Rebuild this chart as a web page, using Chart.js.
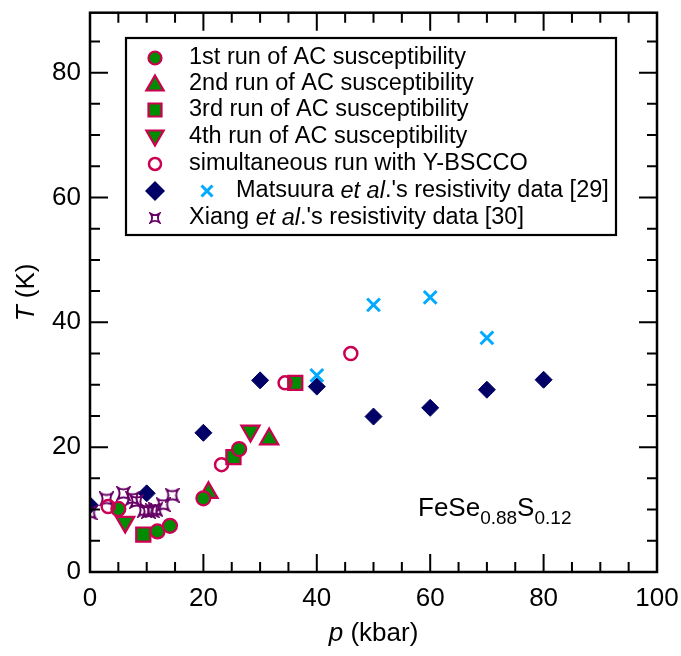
<!DOCTYPE html>
<html>
<head>
<meta charset="utf-8">
<script src="https://cdn.jsdelivr.net/npm/chart.js@4.4.1/dist/chart.umd.min.js"></script>
<style>
html,body{margin:0;padding:0;background:#fff}
#wrap{width:681px;height:656px}
</style>
</head>
<body>
<div id="wrap"><canvas id="graph" width="681" height="656"></canvas></div>
<script>
// axes
const xTicks = [0, 20, 40, 60, 80, 100];
const yTicks = [0, 20, 40, 60, 80];

// AC susceptibility runs (p in kbar, T in K)
const run1P = [5.0, 11.9, 14.1, 20.0, 26.3];
const run1T = [10.1, 6.5, 7.4, 11.8, 19.7];
const run2P = [20.9, 31.6];
const run2T = [12.7, 21.3];
const run3P = [9.4, 25.3, 36.2];
const run3T = [6.0, 18.4, 30.3];
const run4P = [6.2, 28.3];
const run4T = [8.0, 22.6];
const simP = [3.2, 23.2, 34.4, 46.0];
const simT = [10.5, 17.2, 30.3, 35.0];

// Matsuura et al. [29]
const matsDiaP = [0, 10, 20, 30, 40, 50, 60, 70, 80];
const matsDiaT = [10.7, 12.6, 22.3, 30.7, 29.7, 24.9, 26.3, 29.2, 30.8];
const matsCrossP = [40, 50, 60, 70];
const matsCrossT = [31.5, 42.8, 44.0, 37.5];

// Xiang et al. [30]
const xiangP = [0, 2.9, 5.9, 7.5, 8.2, 9.6, 10.3, 11.0, 11.6, 12.9, 14.5];
const xiangT = [9.5, 11.7, 12.6, 11.8, 11.3, 9.9, 9.7, 9.8, 10.0, 10.8, 12.3];

const GREEN = '#008c00';
const CRIMSON = '#cc0052';
const NAVY = '#000066';
const CYAN = '#00aaff';
const PURPLE = '#660066';
const FONT = '"Liberation Sans", Arial, sans-serif';

const pts = (xs, ys) => xs.map((x, i) => ({ x: x, y: ys[i] }));

// concave 4-point star (Xiang symbol)
function makeStar(size, lw) {
    const c = document.createElement('canvas');
    c.width = size; c.height = size;
    const g = c.getContext('2d');
    const m = size / 2, h = size / 2 - 1.5, k = h * 0.3;
    g.strokeStyle = PURPLE;
    g.lineWidth = lw;
    g.beginPath();
    g.moveTo(m - h, m - h);
    g.quadraticCurveTo(m, m - k, m + h, m - h);
    g.quadraticCurveTo(m + k, m, m + h, m + h);
    g.quadraticCurveTo(m, m + k, m - h, m + h);
    g.quadraticCurveTo(m - k, m, m - h, m - h);
    g.closePath();
    g.stroke();
    return c;
}
const starBig = makeStar(15, 2);
const starSmall = makeStar(12, 1.8);

function drawMarker(ctx, type, x, y, r, fill, stroke, lw) {
    ctx.save();
    ctx.lineWidth = lw;
    ctx.strokeStyle = stroke;
    ctx.fillStyle = fill;
    ctx.beginPath();
    if (type === 'circle') {
        ctx.arc(x, y, r, 0, Math.PI * 2);
    } else if (type === 'tri') {
        ctx.moveTo(x, y - r);
        ctx.lineTo(x + r * 0.866, y + r * 0.5);
        ctx.lineTo(x - r * 0.866, y + r * 0.5);
        ctx.closePath();
    } else if (type === 'triDown') {
        ctx.moveTo(x, y + r);
        ctx.lineTo(x + r * 0.866, y - r * 0.5);
        ctx.lineTo(x - r * 0.866, y - r * 0.5);
        ctx.closePath();
    } else if (type === 'rect') {
        ctx.rect(x - r, y - r, 2 * r, 2 * r);
    } else if (type === 'diamond') {
        ctx.moveTo(x, y - r); ctx.lineTo(x + r, y); ctx.lineTo(x, y + r); ctx.lineTo(x - r, y);
        ctx.closePath();
    } else if (type === 'cross') {
        ctx.moveTo(x - r, y - r); ctx.lineTo(x + r, y + r);
        ctx.moveTo(x + r, y - r); ctx.lineTo(x - r, y + r);
        ctx.stroke();
        ctx.restore();
        return;
    }
    if (fill) ctx.fill();
    if (stroke && lw) ctx.stroke();
    ctx.restore();
}

// text made of plain / italic pieces
function drawRich(ctx, parts, x, y, size) {
    let cx = x;
    parts.forEach(([txt, it]) => {
        ctx.font = (it ? 'italic ' : '') + size + 'px ' + FONT;
        ctx.fillText(txt, cx, y);
        cx += ctx.measureText(txt).width;
    });
    return cx;
}

const framePlugin = {
    id: 'frame',
    afterDraw(chart) {
        const ctx = chart.ctx;
        const a = chart.chartArea;
        const xs = chart.scales.x, ys = chart.scales.y;
        ctx.save();
        ctx.strokeStyle = '#000';
        ctx.lineWidth = 2.5;
        ctx.strokeRect(a.left, a.top, a.right - a.left, a.bottom - a.top);

        // inward ticks on all four sides
        ctx.lineWidth = 2;
        ctx.beginPath();
        for (let v = 0; v <= 100; v += 5) {
            const px = xs.getPixelForValue(v);
            const len = v % 20 === 0 ? 18 : 10;
            ctx.moveTo(px, a.bottom); ctx.lineTo(px, a.bottom - len);
            ctx.moveTo(px, a.top); ctx.lineTo(px, a.top + len);
        }
        for (let v = 0; v <= 85; v += 5) {
            const py = ys.getPixelForValue(v);
            const len = v % 20 === 0 ? 18 : 10;
            ctx.moveTo(a.left, py); ctx.lineTo(a.left + len, py);
            ctx.moveTo(a.right, py); ctx.lineTo(a.right - len, py);
        }
        ctx.stroke();

        // axis titles
        ctx.fillStyle = '#000';
        ctx.textBaseline = 'middle';
        ctx.font = 'italic 26px ' + FONT;
        const pw = ctx.measureText('p').width;
        ctx.font = '26px ' + FONT;
        const restW = ctx.measureText(' (kbar)').width;
        drawRich(ctx, [['p', true], [' (kbar)', false]], (a.left + a.right) / 2 - (pw + restW) / 2, 634, 26);

        ctx.save();
        ctx.translate(27, (a.top + a.bottom) / 2);
        ctx.rotate(-Math.PI / 2);
        ctx.font = 'italic 26px ' + FONT;
        const tw = ctx.measureText('T').width;
        ctx.font = '26px ' + FONT;
        const kw = ctx.measureText(' (K)').width;
        drawRich(ctx, [['T', true], [' (K)', false]], -(tw + kw) / 2, 0, 26);
        ctx.restore();

        // compound label
        ctx.textBaseline = 'alphabetic';
        let cx = 418;
        ctx.font = '26px ' + FONT;
        ctx.fillText('FeSe', cx, 516); cx += ctx.measureText('FeSe').width;
        ctx.font = '19px ' + FONT;
        ctx.fillText('0.88', cx, 524); cx += ctx.measureText('0.88').width;
        ctx.font = '26px ' + FONT;
        ctx.fillText('S', cx, 516); cx += ctx.measureText('S').width;
        ctx.font = '19px ' + FONT;
        ctx.fillText('0.12', cx, 524);

        // legend
        ctx.fillStyle = '#fff';
        ctx.fillRect(126, 38, 490, 197);
        ctx.lineWidth = 2.2;
        ctx.strokeStyle = '#000';
        ctx.strokeRect(126, 38, 490, 197);
        const rows = [58, 84, 110, 137, 164, 191, 218];
        const mx = 155, tx = 189;
        drawMarker(ctx, 'circle', mx, rows[0], 6.5, GREEN, CRIMSON, 2.2);
        drawMarker(ctx, 'tri', mx, rows[1] + 1.5, 10, GREEN, CRIMSON, 2.2);
        drawMarker(ctx, 'rect', mx, rows[2], 6.5, GREEN, CRIMSON, 2.2);
        drawMarker(ctx, 'triDown', mx, rows[3] - 1.5, 10, GREEN, CRIMSON, 2.2);
        drawMarker(ctx, 'circle', mx, rows[4], 6, '#fff', CRIMSON, 2.5);
        drawMarker(ctx, 'diamond', mx, rows[5], 10, NAVY, NAVY, 0);
        drawMarker(ctx, 'cross', 207, rows[5], 5.5, null, CYAN, 3);
        ctx.drawImage(starSmall, mx - 6, rows[6] - 6);

        ctx.fillStyle = '#000';
        ctx.textBaseline = 'middle';
        const fs = 23.5;
        drawRich(ctx, [['1st run of AC susceptibility', false]], tx, rows[0], fs);
        drawRich(ctx, [['2nd run of AC susceptibility', false]], tx, rows[1], fs);
        drawRich(ctx, [['3rd run of AC susceptibility', false]], tx, rows[2], fs);
        drawRich(ctx, [['4th run of AC susceptibility', false]], tx, rows[3], fs);
        drawRich(ctx, [['simultaneous run with Y-BSCCO', false]], tx, rows[4], fs);
        drawRich(ctx, [['Matsuura ', false], ['et al', true], ['.\'s resistivity data [29]', false]], 236, rows[5], fs);
        drawRich(ctx, [['Xiang ', false], ['et al', true], ['.\'s resistivity data [30]', false]], tx, rows[6], fs);
        ctx.restore();
    }
};

const acStyle = { backgroundColor: GREEN, borderColor: CRIMSON, borderWidth: 2.2 };
const noPad = s => { s.paddingTop = 0; s.paddingBottom = 0; s.paddingLeft = 0; s.paddingRight = 0; };

new Chart(document.getElementById('graph'), {
    type: 'scatter',
    data: {
        datasets: [
            { label: 'sim', data: pts(simP, simT), pointStyle: 'circle', pointRadius: 6.5, backgroundColor: 'rgba(0,0,0,0)', borderColor: CRIMSON, borderWidth: 2.5 },
            Object.assign({ label: '1st', data: pts(run1P, run1T), pointStyle: 'circle', pointRadius: 7 }, acStyle),
            Object.assign({ label: '2nd', data: pts(run2P, run2T), pointStyle: 'triangle', pointRadius: 10.5 }, acStyle),
            Object.assign({ label: '3rd', data: pts(run3P, run3T), pointStyle: 'rect', pointRadius: 10 }, acStyle),
            Object.assign({ label: '4th', data: pts(run4P, run4T), pointStyle: 'triangle', rotation: 180, pointRadius: 10.5 }, acStyle),
            { label: 'xiang', data: pts(xiangP, xiangT), pointStyle: starBig, pointRadius: 8 },
            { label: 'matsCross', data: pts(matsCrossP, matsCrossT), pointStyle: 'crossRot', pointRadius: 9, borderColor: CYAN, borderWidth: 3 },
            { label: 'matsDia', data: pts(matsDiaP, matsDiaT), pointStyle: 'rectRot', pointRadius: 8.5, backgroundColor: NAVY, borderColor: NAVY, borderWidth: 1 }
        ]
    },
    options: {
        responsive: false,
        animation: false,
        devicePixelRatio: 1,
        layout: { padding: { top: 6, right: 24, left: 0, bottom: 0 } },
        plugins: { legend: { display: false }, tooltip: { enabled: false } },
        scales: {
            x: {
                type: 'linear', min: 0, max: 100,
                afterBuildTicks: s => { s.ticks = xTicks.map(v => ({ value: v })); },
                afterFit: s => { s.height = 84; noPad(s); },
                grid: { display: false, drawTicks: false },
                border: { display: false },
                ticks: { color: '#000', font: { family: FONT, size: 26 }, padding: 11, maxRotation: 0 }
            },
            y: {
                type: 'linear', min: 0, max: 89.6,
                afterBuildTicks: s => { s.ticks = yTicks.map(v => ({ value: v })); },
                afterFit: s => { s.width = 90; noPad(s); },
                grid: { display: false, drawTicks: false },
                border: { display: false },
                ticks: { color: '#000', font: { family: FONT, size: 26 }, padding: 9 }
            }
        }
    },
    plugins: [framePlugin]
});
</script>
</body>
</html>
